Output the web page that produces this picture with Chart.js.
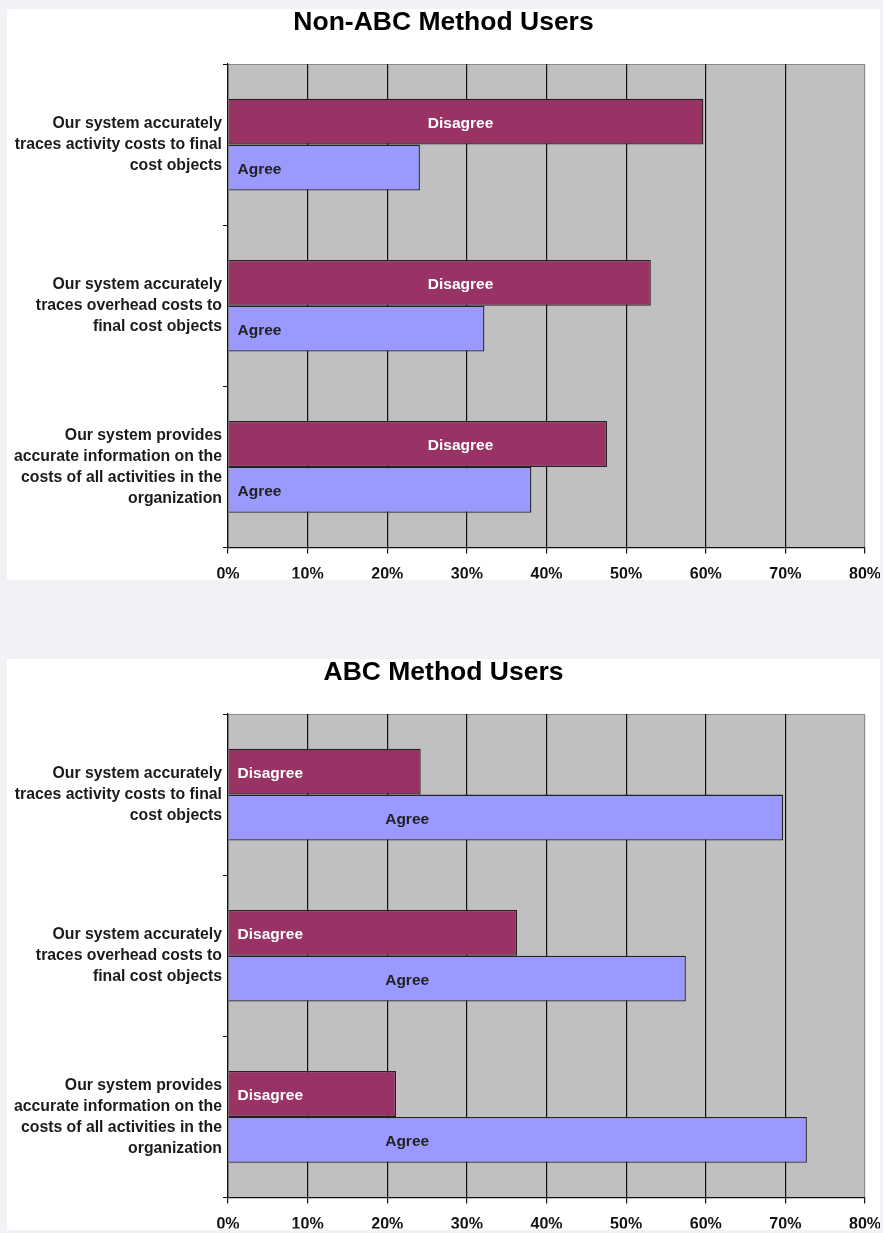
<!DOCTYPE html>
<html>
<head>
<meta charset="utf-8">
<title>ABC survey</title>
<script src="https://cdn.jsdelivr.net/npm/chart.js@4.4.1/dist/chart.umd.min.js"></script>
<style>
  html, body { margin: 0; padding: 0; background: #f0f2f5; }
  body { width: 883px; height: 1233px; position: relative; overflow: hidden; }
  .panel { position: absolute; left: 7px; width: 873px; height: 571px; background: #fff; overflow: hidden; }
  #panelTop { top: 9px; }
  #panelBottom { top: 659px; }
  canvas { display: block; }
</style>
</head>
<body>
<div class="panel" id="panelTop"><canvas id="nonAbcChart" width="873" height="571"></canvas></div>
<div class="panel" id="panelBottom"><canvas id="abcChart" width="873" height="571"></canvas></div>
<script>
var categories = [
  ['Our system accurately', 'traces activity costs to final', 'cost objects'],
  ['Our system accurately', 'traces overhead costs to', 'final cost objects'],
  ['Our system provides', 'accurate information on the', 'costs of all activities in the', 'organization']
];
var seriesNames = ['Disagree', 'Agree'];
var nonAbcDisagree = [59.7, 53.1, 47.6];
var nonAbcAgree = [24.1, 32.2, 38.1];
var abcDisagree = [24.2, 36.3, 21.1];
var abcAgree = [69.7, 57.5, 72.7];
var xTicks = [0, 10, 20, 30, 40, 50, 60, 70, 80];

var FONT = '"Liberation Sans", Arial, sans-serif';
var disagreeColor = '#993366';
var agreeColor = '#9999ff';

// grey plot area + thin grey top edge
var plotBackground = {
  id: 'plotBackground',
  beforeDraw: function (chart) {
    var a = chart.chartArea, ctx = chart.ctx;
    ctx.save();
    ctx.fillStyle = '#c0c0c0';
    ctx.fillRect(a.left, a.top, a.right - a.left, a.bottom - a.top);
    ctx.strokeStyle = '#8a8a8a';
    ctx.lineWidth = 1;
    ctx.beginPath();
    ctx.moveTo(a.left, a.top + 0.5);
    ctx.lineTo(a.right, a.top + 0.5);
    ctx.stroke();
    ctx.restore();
  }
};

// series name written inside each bar
var seriesLabels = {
  id: 'seriesLabels',
  afterDatasetsDraw: function (chart, args, opts) {
    var ctx = chart.ctx, xScale = chart.scales.x;
    ctx.save();
    ctx.font = 'bold 15.5px ' + FONT;
    ctx.textBaseline = 'middle';
    chart.data.datasets.forEach(function (ds, di) {
      var spec = opts.items[di];
      var meta = chart.getDatasetMeta(di);
      ctx.fillStyle = spec.color;
      ctx.textAlign = spec.align;
      meta.data.forEach(function (bar) {
        ctx.fillText(ds.label, xScale.getPixelForValue(spec.at), bar.y + 2);
      });
    });
    ctx.restore();
  }
};

function makeChart(id, title, disagree, agree, labelSpecs) {
  return new Chart(document.getElementById(id), {
    type: 'bar',
    data: {
      labels: categories,
      datasets: [{
        label: seriesNames[0],
        data: disagree,
        backgroundColor: disagreeColor,
        borderColor: '#222',
        borderWidth: 1.3
      }, {
        label: seriesNames[1],
        data: agree,
        backgroundColor: agreeColor,
        borderColor: '#222',
        borderWidth: 1.3
      }]
    },
    options: {
      indexAxis: 'y',
      responsive: false,
      animation: false,
      categoryPercentage: 0.569,
      barPercentage: 1.0,
      layout: { padding: 0 },
      plugins: {
        legend: { display: false },
        tooltip: { enabled: false },
        title: {
          display: true,
          text: title,
          color: '#000',
          font: { family: FONT, size: 26.5, weight: 'bold', lineHeight: 1.0 },
          padding: { top: 0, bottom: 28.5 }
        },
        seriesLabels: { items: labelSpecs }
      },
      scales: {
        x: {
          min: 0,
          max: 80,
          afterBuildTicks: function (scale) {
            scale.ticks = xTicks.map(function (v) { return { value: v }; });
          },
          afterFit: function (scale) {
            scale.height = 31;
            scale.paddingLeft = 0;
            scale.paddingRight = 15;
          },
          grid: {
            color: function (c) { return c.tick && c.tick.value === 80 ? '#8a8a8a' : '#111'; },
            tickColor: '#111',
            tickLength: 6,
            lineWidth: 1.2
          },
          border: { display: true, color: '#111', width: 1.2 },
          ticks: {
            color: '#111',
            padding: 12,
            maxRotation: 0,
            font: { family: FONT, size: 16, weight: 'bold' },
            callback: function (v) { return v + '%'; }
          }
        },
        y: {
          afterFit: function (scale) { scale.width = 221; },
          grid: {
            drawOnChartArea: false,
            drawTicks: true,
            tickLength: 5,
            offset: true,
            color: '#111'
          },
          border: { display: true, color: '#111', width: 1.2 },
          ticks: {
            color: '#1a1a1a',
            padding: 1,
            font: { family: FONT, size: 15.8, weight: 'bold', lineHeight: 1.33 }
          }
        }
      }
    },
    plugins: [plotBackground, seriesLabels]
  });
}

makeChart('nonAbcChart', 'Non-ABC Method Users', nonAbcDisagree, nonAbcAgree, [
  { at: 29.2, align: 'center', color: '#fff' },
  { at: 1.2, align: 'left', color: '#222' }
]);

makeChart('abcChart', 'ABC Method Users', abcDisagree, abcAgree, [
  { at: 1.2, align: 'left', color: '#fff' },
  { at: 22.5, align: 'center', color: '#222' }
]);
</script>
</body>
</html>
